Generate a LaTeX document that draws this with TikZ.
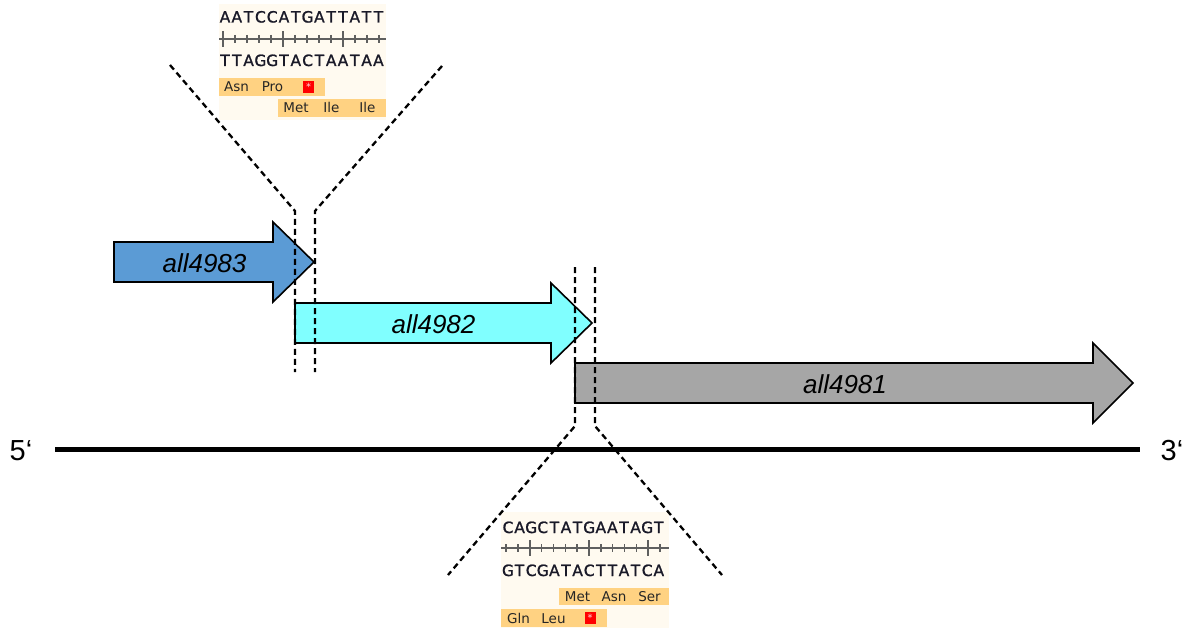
\documentclass[tikz,border=0pt]{standalone}
\usepackage{fontspec}
\setmainfont{Liberation Sans}
\newfontfamily\seqfont{DejaVu Sans}
\newfontfamily\seqboldfont[FakeBold=1.2]{DejaVu Sans}
\definecolor{blueA}{RGB}{91,155,213}
\definecolor{cyanA}{RGB}{128,255,255}
\definecolor{grayA}{RGB}{166,166,166}
\definecolor{creamA}{RGB}{255,250,240}
\definecolor{orangeA}{RGB}{255,210,130}
\definecolor{seqink}{RGB}{25,25,40}
\definecolor{rulergray}{RGB}{95,95,95}
\begin{document}
\begin{tikzpicture}[x=1pt,y=-1pt,
  gene/.style={draw=black,line width=1.6pt,line join=miter},
  zoomline/.style={line width=2.3pt,dash pattern=on 6pt off 4pt},
  genelabel/.style={font=\fontsize{26}{26}\selectfont\itshape,anchor=base,inner sep=0pt},
  endlabel/.style={font=\fontsize{29}{29}\selectfont,inner sep=0pt},
  seqchar/.style={font=\seqboldfont\fontsize{15.5}{15.5}\selectfont,text=seqink,anchor=base,inner sep=0pt},
  aa/.style={font=\seqfont\fontsize{13.5}{13.5}\selectfont,text=black!85,anchor=base,inner sep=0pt},
  stopbox/.style={fill=red,minimum width=11pt,minimum height=12pt,inner sep=0pt,text=white!85!red,font=\seqfont\fontsize{10}{10}\selectfont},
  ruler/.style={rulergray,line width=2.2pt},
  tick/.style={rulergray,line width=1.5pt}]
\useasboundingbox (0,0) rectangle (1190,628);

% ---------- top sequence panel ----------
\fill[creamA] (219,4) rectangle (386,120);
\foreach \c [count=\i from 0] in {A,A,T,C,C,A,T,G,A,T,T,A,T,T}
  \node[seqchar] (ta\i) at ({225+11.8*\i},22.5) {\c};
\draw[ruler] (219,39) -- (386,39);
\foreach \k in {0,...,13} \draw[tick] ({223+12*\k},35) -- ({223+12*\k},43);
\foreach \k in {0,5,10} \draw[tick,line width=2pt] ({223+12*\k},31) -- ({223+12*\k},47);
\foreach \c [count=\i from 0] in {T,T,A,G,G,T,A,C,T,A,A,T,A,A}
  \node[seqchar] (tb\i) at ({225+11.8*\i},66) {\c};
\fill[orangeA] (219,78) rectangle (325,96);
\node[aa] (tAsn) at (236.5,92) {Asn};
\node[aa] (tPro) at (272.5,92) {Pro};
\node[stopbox] (tstop) at (308.5,87) {*};
\fill[orangeA] (278,99) rectangle (386,117);
\node[aa] (tMet) at (296,113) {Met};
\node[aa] (tIle1) at (331.5,113) {Ile};
\node[aa] (tIle2) at (367.5,113) {Ile};

% ---------- bottom sequence panel ----------
\fill[creamA] (501,512) rectangle (669,628);
\foreach \c [count=\i from 0] in {C,A,G,C,T,A,T,G,A,A,T,A,G,T}
  \node[seqchar] (ba\i) at ({508+11.6*\i},533) {\c};
\draw[ruler] (501,548) -- (669,548);
\foreach \k in {0,...,13} \draw[tick] ({506+11.85*\k},544) -- ({506+11.85*\k},552);
\foreach \k in {2,7,12} \draw[tick,line width=2pt] ({506+11.85*\k},540) -- ({506+11.85*\k},556);
\foreach \c [count=\i from 0] in {G,T,C,G,A,T,A,C,T,T,A,T,C,A}
  \node[seqchar] (bb\i) at ({508+11.6*\i},576) {\c};
\fill[orangeA] (559,588) rectangle (669,605);
\node[aa] (bMet) at (577.5,601.5) {Met};
\node[aa] (bAsn) at (614,601.5) {Asn};
\node[aa] (bSer) at (649.5,601.5) {Ser};
\fill[orangeA] (501,609) rectangle (607,627);
\node[aa] (bGln) at (518.5,623) {Gln};
\node[aa] (bLeu) at (553.5,623) {Leu};
\node[stopbox] (bstop) at (590,618) {*};

% ---------- genes ----------
\draw[gene,fill=blueA] (114,242) -- (273,242) -- (273,222) -- (314,262) -- (273,302) -- (273,282) -- (114,282) -- cycle;
\node[genelabel] (g83) at (204.5,272) {all4983};
\draw[gene,fill=cyanA] (295,303) -- (551,303) -- (551,283) -- (592,323) -- (551,363) -- (551,343) -- (295,343) -- cycle;
\node[genelabel] (g82) at (433.5,333) {all4982};
\draw[gene,fill=grayA] (575,363) -- (1093,363) -- (1093,343) -- (1133,383) -- (1093,423) -- (1093,403) -- (575,403) -- cycle;
\node[genelabel] (g81) at (845,393) {all4981};

% ---------- zoom lines ----------
\coordinate (tl1) at (170,65);
\coordinate (tl2) at (295,211);
\coordinate (tl3) at (295,372);
\coordinate (tr1) at (442,66);
\coordinate (tr2) at (315,211);
\coordinate (tr3) at (315,372);
\draw[zoomline] (tl1) -- (tl2) -- (tl3);
\draw[zoomline] (tr1) -- (tr2) -- (tr3);
\coordinate (bl1) at (575,267);
\coordinate (bl2) at (575,426);
\coordinate (bl3) at (448,575);
\coordinate (br1) at (595,267);
\coordinate (br2) at (595,426);
\coordinate (br3) at (722,575);
\draw[zoomline] (bl1) -- (bl2) -- (bl3);
\draw[zoomline] (br1) -- (br2) -- (br3);

% ---------- DNA strand ----------
\coordinate (s5) at (55,449);
\coordinate (s3) at (1140,449);
\draw[line width=5pt] (s5) -- (s3);
\node[endlabel] (l5) at (21,451) {5‘};
\node[endlabel] (l3) at (1172,451) {3‘};
\end{tikzpicture}
\end{document}
